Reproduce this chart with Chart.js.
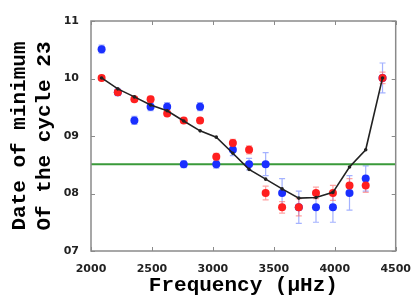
<!DOCTYPE html>
<html>
<head>
<meta charset="utf-8">
<script src="https://cdn.jsdelivr.net/npm/chart.js@4/dist/chart.umd.min.js"></script>
<style>
  html, body { margin: 0; padding: 0; background: #fff; }
  #wrap { width: 415px; height: 300px; }
</style>
</head>
<body>
<div id="wrap"><canvas id="chart" width="415" height="300"></canvas></div>
<script>
// frequencies of the modes (µHz)
const freqs = [2087, 2220, 2356, 2489, 2625, 2761, 2895, 3028, 3164, 3297, 3433, 3568, 3705, 3846, 3985, 4121, 4254, 4392];

// blue series and its errors
const blueVals = [10.51, 9.76, 9.27, 9.51, 9.51, 8.51, 9.51, 8.51, 8.76, 8.51, 8.51, 8.01, 7.76, 7.76, 7.76, 8.01, 8.26, 10.01];
const blueErr  = [0.07, 0.06, 0.07, 0.07, 0.07, 0.06, 0.07, 0.07, 0.10, 0.10, 0.20, 0.25, 0.28, 0.26, 0.26, 0.30, 0.22, 0.26];

// red series and its errors
const redVals = [10.01, 9.76, 9.64, 9.64, 9.39, 9.27, 9.27, 8.64, 8.88, 8.76, 8.01, 7.76, 7.76, 8.01, 8.01, 8.14, 8.14, 10.01];
const redErr  = [0.04, 0.04, 0.04, 0.05, 0.04, 0.04, 0.04, 0.06, 0.06, 0.07, 0.12, 0.10, 0.15, 0.10, 0.13, 0.12, 0.12, 0.10];

// black curve
const curveVals = [10.01, 9.82, 9.68, 9.54, 9.44, 9.26, 9.09, 8.98, 8.70, 8.42, 8.25, 8.08, 7.92, 7.93, 8.02, 8.46, 8.76, 10.01];

// green reference level
const refLevel = 8.51;
const refRange = [2000, 4500];

// axis ticks
const xTicks = [2000, 2500, 3000, 3500, 4000, 4500];
const yTicks = [7, 8, 9, 10, 11];

function toPoints(xs, ys) {
    return xs.map((x, i) => ({ x: x, y: ys[i] }));
}

// error bars drawn under the markers
const errorBars = {
    id: 'errorBars',
    beforeDatasetsDraw(chart) {
        const ctx = chart.ctx;
        const xs = chart.scales.x, ys = chart.scales.y;
        const sets = [
            { vals: blueVals, err: blueErr, color: 'rgba(90,115,255,0.55)' },
            { vals: redVals, err: redErr, color: 'rgba(255,90,90,0.55)' }
        ];
        ctx.save();
        ctx.lineWidth = 1.2;
        sets.forEach(s => {
            ctx.strokeStyle = s.color;
            freqs.forEach((f, i) => {
                const px = xs.getPixelForValue(f);
                const top = ys.getPixelForValue(s.vals[i] + s.err[i]);
                const bot = ys.getPixelForValue(s.vals[i] - s.err[i]);
                ctx.beginPath();
                ctx.moveTo(px, top); ctx.lineTo(px, bot);
                ctx.moveTo(px - 3, top); ctx.lineTo(px + 3, top);
                ctx.moveTo(px - 3, bot); ctx.lineTo(px + 3, bot);
                ctx.stroke();
            });
        });
        ctx.restore();
    }
};

// frame with inward ticks on all four sides
const frame = {
    id: 'frame',
    afterDatasetsDraw(chart) {
        const ctx = chart.ctx;
        const a = chart.chartArea;
        const xs = chart.scales.x, ys = chart.scales.y;
        ctx.save();
        ctx.strokeStyle = '#8a8a8a';
        ctx.lineWidth = 1.5;
        ctx.strokeRect(a.left, a.top, a.right - a.left, a.bottom - a.top);
        ctx.lineWidth = 1;
        ctx.beginPath();
        xTicks.forEach(v => {
            const px = Math.round(xs.getPixelForValue(v)) + 0.5;
            ctx.moveTo(px, a.top); ctx.lineTo(px, a.top + 4);
            ctx.moveTo(px, a.bottom); ctx.lineTo(px, a.bottom - 4);
        });
        yTicks.forEach(v => {
            const py = Math.round(ys.getPixelForValue(v)) + 0.5;
            ctx.moveTo(a.left, py); ctx.lineTo(a.left + 4, py);
            ctx.moveTo(a.right, py); ctx.lineTo(a.right - 4, py);
        });
        ctx.stroke();
        ctx.restore();
    }
};

new Chart(document.getElementById('chart'), {
    type: 'scatter',
    data: {
        datasets: [
            {
                label: 'curve',
                data: toPoints(freqs, curveVals),
                showLine: true,
                borderColor: '#222',
                backgroundColor: '#222',
                borderWidth: 1.6,
                pointRadius: 1,
                order: 0
            },
            {
                label: 'red',
                data: toPoints(freqs, redVals),
                backgroundColor: '#ff1f1f',
                borderColor: '#ff1f1f',
                pointRadius: 4,
                borderWidth: 0,
                order: 1
            },
            {
                label: 'blue',
                data: toPoints(freqs, blueVals),
                backgroundColor: '#1a2fff',
                borderColor: '#1a2fff',
                pointRadius: 4,
                borderWidth: 0,
                order: 2
            },
            {
                label: 'level',
                data: toPoints(refRange, [refLevel, refLevel]),
                showLine: true,
                borderColor: '#3a9a3a',
                borderWidth: 2,
                pointRadius: 0,
                order: 3
            }
        ]
    },
    plugins: [errorBars, frame],
    options: {
        responsive: false,
        animation: false,
        events: [],
        layout: { padding: { left: 0, right: 17, top: 21, bottom: 0 } },
        plugins: { legend: { display: false }, tooltip: { enabled: false } },
        scales: {
            x: {
                type: 'linear',
                min: 2000,
                max: 4500,
                afterBuildTicks: s => { s.ticks = xTicks.map(v => ({ value: v })); },
                afterFit: s => { s.height = 49; },
                grid: { display: false },
                border: { display: false },
                ticks: {
                    color: '#222',
                    font: { family: 'DejaVu Sans', weight: 'bold', size: 11 },
                    padding: 4,
                    maxRotation: 0,
                    callback: v => String(v)
                },
                title: {
                    display: true,
                    text: 'Frequency (μHz)',
                    color: '#000',
                    font: { family: 'Liberation Mono', weight: 'bold', size: 21 },
                    padding: { top: 2, bottom: 2 }
                }
            },
            y: {
                min: 7,
                max: 11,
                afterBuildTicks: s => { s.ticks = yTicks.map(v => ({ value: v })); },
                afterFit: s => { s.width = 91; },
                grid: { display: false },
                border: { display: false },
                ticks: {
                    color: '#222',
                    font: { family: 'DejaVu Sans', weight: 'bold', size: 11 },
                    padding: 4,
                    callback: v => String(v).padStart(2, '0')
                },
                title: {
                    display: true,
                    text: ['Date of minimum', 'Of the cycle 23'],
                    color: '#000',
                    font: { family: 'Liberation Mono', weight: 'bold', size: 21, lineHeight: 1.15 },
                    padding: { top: 8, bottom: 0 }
                }
            }
        }
    }
});
</script>
</body>
</html>
